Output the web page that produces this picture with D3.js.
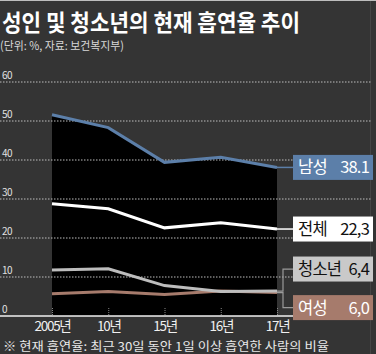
<!DOCTYPE html>
<html><head><meta charset="utf-8">
<script src="https://cdn.jsdelivr.net/npm/d3@7"></script>
<style>
html,body{margin:0;padding:0;background:#343434;}
svg{display:block;}
text{font-family:"Noto Sans CJK KR","Noto Sans",sans-serif;}
</style></head>
<body>
<svg id="chart" width="376" height="354"></svg>
<script>
const years = ["2005년","10년","15년","16년","17년"];
const male  = [51.6, 48.3, 39.4, 40.7, 38.1];
const total = [28.8, 27.5, 22.6, 23.9, 22.3];
const youth = [11.8, 12.1, 7.8, 6.3, 6.4];
const female= [5.7, 6.3, 5.5, 6.4, 6.0];
const yTicks = [0,10,20,30,40,50,60];
const labels = [
  {name:"남성", val:"38.1", data:male,  fill:"#5c7fa9", text:"#fff", line:"#5c7fa9", dy:0},
  {name:"전체", val:"22,3", data:total, fill:"#ffffff", text:"#111", line:"#ffffff", dy:0},
  {name:"청소년", val:"6,4", data:youth, fill:"#c9c9c9", text:"#111", line:"#9a9a9a", dy:-22},
  {name:"여성", val:"6,0", data:female, fill:"#a67b6c", text:"#fff", line:"#9a9a9a", dy:15}
];

const svg = d3.select("#chart");
svg.append("rect").attr("width",376).attr("height",354).attr("fill","#343434");
svg.append("line").attr("x1",0).attr("x2",376).attr("y1",0.5).attr("y2",0.5).attr("stroke","#bdbdbd");
svg.append("line").attr("x1",370.5).attr("x2",370.5).attr("y1",1).attr("y2",354).attr("stroke","#454545");

const x = d3.scalePoint().domain(years).range([52,277]);
const y = d3.scaleLinear().domain([0,60]).range([316,82]);

// black area under male line
const area = d3.area().x((d,i)=>x(years[i])).y0(y(0)).y1(d=>y(d));
svg.append("path").datum(male).attr("d",area).attr("fill","#000");

// gridlines
const grid = svg.append("g");
yTicks.filter(t=>t>0).forEach(t=>{
  grid.append("line").attr("x1",0).attr("x2",371).attr("y1",y(t)).attr("y2",y(t))
    .attr("stroke","#bdbdbd").attr("stroke-width",1).attr("stroke-dasharray","1.5,1.5");
});
yTicks.forEach(t=>{
  svg.append("text").attr("x",2).attr("y",y(t)-3).attr("fill","#e0e0e0")
    .attr("font-size",10).attr("letter-spacing",-0.5).text(t);
});

// x axis
const xAxis = d3.axisBottom(x).tickSize(0).tickPadding(0);
const gx = svg.append("g").attr("transform",`translate(0,${y(0)})`).call(xAxis);
gx.select(".domain").remove();
gx.append("line").attr("x1",0).attr("x2",372).attr("y1",0).attr("y2",0).attr("stroke","#f0f0f0").attr("stroke-width",1.5);
gx.selectAll(".tick line").remove();
gx.selectAll(".tick").append("line").attr("y1",-8).attr("y2",0).attr("stroke","#888").attr("stroke-dasharray","1,1");
gx.selectAll(".tick text").attr("y",15).attr("dy",0).attr("fill","#f0f0f0")
  .attr("font-size",13.5).attr("letter-spacing",-1.3)
  .attr("font-family",'"Noto Sans CJK KR",sans-serif');

// lines
const line = d3.line().x((d,i)=>x(years[i])).y(d=>y(d));
const draw = [[female,"#a67b6c"],[youth,"#bdbdbd"],[total,"#ffffff"],[male,"#5c7fa9"]];
draw.forEach(([d,c])=>{
  svg.append("path").datum(d).attr("d",line).attr("fill","none").attr("stroke",c).attr("stroke-width",3);
});

// labels
const bx = 293, bw = 80, bh = 25;
const xe = x(years[years.length-1]);
labels.forEach(l=>{
  const ye = y(l.data[l.data.length-1]);
  const cy = ye + l.dy;
  if (l.dy===0){
    svg.append("line").attr("x1",xe).attr("x2",bx).attr("y1",ye).attr("y2",ye).attr("stroke",l.line).attr("stroke-width",1.5);
  } else {
    svg.append("path").attr("d",`M${xe},${ye}H${xe+6}V${cy}H${bx}`).attr("fill","none").attr("stroke",l.line).attr("stroke-width",1.2);
  }
  svg.append("rect").attr("x",bx).attr("y",cy-bh/2).attr("width",bw).attr("height",bh).attr("fill",l.fill);
  const t = svg.append("text").attr("x",bx+5).attr("y",cy+6).attr("fill",l.text).attr("font-size",16.5).attr("letter-spacing",-0.8);
  t.append("tspan").text(l.name);
  t.append("tspan").attr("x",bx+bw-4).attr("text-anchor","end").text(l.val);
});

// title
svg.append("text").attr("x",2).attr("y",31).attr("fill","#fff").attr("font-size",23).attr("font-weight","bold")
  .attr("textLength",298).attr("lengthAdjust","spacingAndGlyphs").text("성인 및 청소년의 현재 흡연율 추이");
svg.append("text").attr("x",0).attr("y",50).attr("fill","#d8d8d8").attr("font-size",11.5)
  .attr("textLength",124).attr("lengthAdjust","spacingAndGlyphs").text("(단위: %, 자료: 보건복지부)");
svg.append("text").attr("x",3).attr("y",351).attr("fill","#e8e8e8").attr("font-size",12)
  .attr("textLength",326).attr("lengthAdjust","spacingAndGlyphs")
  .text("※ 현재 흡연율: 최근 30일 동안 1일 이상 흡연한 사람의 비율");
</script>
</body></html>
